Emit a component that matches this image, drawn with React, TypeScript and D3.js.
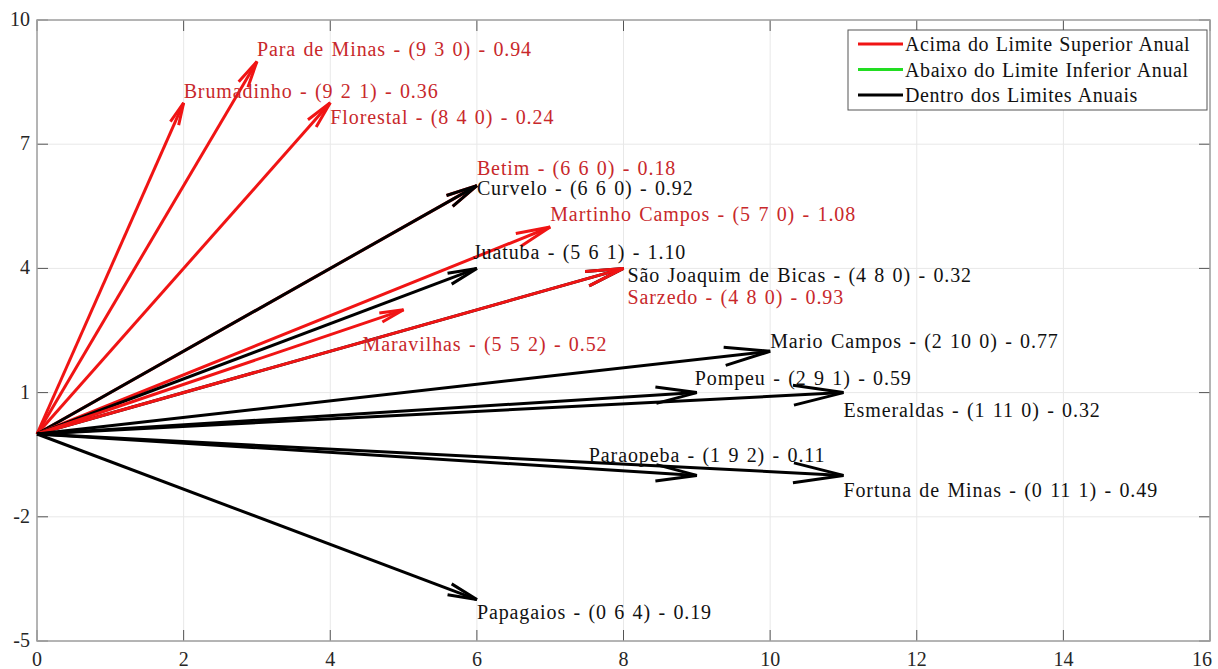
import React from "react";
import * as d3 from "d3";

// Station names and their (acima, dentro, abaixo) counts plus index value
const cities = [
  "Para de Minas", "Brumadinho", "Florestal", "Betim", "Curvelo",
  "Martinho Campos", "Juatuba", "São Joaquim de Bicas", "Sarzedo", "Maravilhas",
  "Mario Campos", "Pompeu", "Esmeraldas", "Paraopeba", "Fortuna de Minas", "Papagaios",
];
const countAbove = [9, 9, 8, 6, 6, 5, 5, 4, 4, 5, 2, 2, 1, 1, 0, 0];
const countWithin = [3, 2, 4, 6, 6, 7, 6, 8, 8, 5, 10, 9, 11, 9, 11, 6];
const countBelow = [0, 1, 0, 0, 0, 0, 1, 0, 0, 2, 0, 1, 0, 2, 1, 4];
const indexValue = ["0.94", "0.36", "0.24", "0.18", "0.92", "1.08", "1.10", "0.32", "0.93", "0.52", "0.77", "0.59", "0.32", "0.11", "0.49", "0.19"];
// "above" = Acima do Limite Superior Anual, "within" = Dentro dos Limites Anuais
const status = ["above", "above", "above", "above", "within", "above", "within", "within", "above", "above", "within", "within", "within", "within", "within", "within"];

const xTicks = [0, 2, 4, 6, 8, 10, 12, 14, 16];
const yTicks = [-5, -2, 1, 4, 7, 10];

const legendLabels = ["Acima do Limite Superior Anual", "Abaixo do Limite Inferior Anual", "Dentro dos Limites Anuais"];
const legendColors = ["#f01414", "#22dd22", "#000000"];

// Label placement relative to each arrow tip, in pixels
const labelShift: [number, number][] = [
  [0, -12], [0, -12], [0, 14], [0, -18], [0, 2],
  [0, -13], [-4, -16], [4, 7], [4, 29], [-41, 34],
  [0, -10], [-2, -15], [0, 17], [-108, -20], [0, 15], [0, 12],
];

const W = 1218;
const H = 669;
const left = 37, right = 1210, top = 20, bottom = 641;
const FONT = "'Liberation Serif', 'Times New Roman', serif";

export default function App() {
  const x = d3.scaleLinear().domain([0, 16]).range([left, right]);
  const y = d3.scaleLinear().domain([-5, 10]).range([bottom, top]);

  const arrowColor = (s: string) => (s === "above" ? "#f01414" : "#000000");
  const textColor = (s: string) => (s === "above" ? "#c8282b" : "#111111");

  // arrowheads scale with the on-screen length of each arrow
  const headFrac = 0.062;
  const headWidth = 0.2;

  const arrows = cities.map((name, i) => {
    const u = countWithin[i];
    const v = countAbove[i] - countBelow[i];
    const x0 = x(0), y0 = y(0), x1 = x(u), y1 = y(v);
    const dx = x1 - x0, dy = y1 - y0;
    const len = Math.hypot(dx, dy);
    const ux = dx / len, uy = dy / len;
    const hl = headFrac * len;
    const hw = headWidth * hl;
    const bx = x1 - ux * hl, by = y1 - uy * hl;
    const shaft = `M${x0},${y0}L${x1},${y1}`;
    const head = `M${bx - uy * hw},${by + ux * hw}L${x1},${y1}L${bx + uy * hw},${by - ux * hw}`;
    return { name, u, v, x1, y1, shaft, head, i };
  });

  return (
    <svg width={W} height={H} style={{ position: "absolute", left: 0, top: 0, background: "#fff" }}>
      <rect x={0} y={0} width={W} height={H} fill="#ffffff" />
      {/* grid */}
      {xTicks.map((t) => (
        <line key={"gx" + t} x1={x(t)} x2={x(t)} y1={top} y2={bottom} stroke="#e8e8e8" strokeWidth={1} />
      ))}
      {yTicks.map((t) => (
        <line key={"gy" + t} x1={left} x2={right} y1={y(t)} y2={y(t)} stroke="#e8e8e8" strokeWidth={1} />
      ))}
      {/* tick marks, inside on all four sides */}
      {xTicks.map((t) => (
        <g key={"tx" + t} stroke="#555" strokeWidth={1}>
          <line x1={x(t)} x2={x(t)} y1={bottom} y2={bottom - 11} />
          <line x1={x(t)} x2={x(t)} y1={top} y2={top + 11} />
        </g>
      ))}
      {yTicks.map((t) => (
        <g key={"ty" + t} stroke="#555" strokeWidth={1}>
          <line x1={left} x2={left + 11} y1={y(t)} y2={y(t)} />
          <line x1={right} x2={right - 11} y1={y(t)} y2={y(t)} />
        </g>
      ))}
      {/* axes box */}
      <rect x={left} y={top} width={right - left} height={bottom - top} fill="none" stroke="#a0a0a0" strokeWidth={1.5} />
      {/* tick labels */}
      {xTicks.map((t, k) => (
        <text
          key={"lx" + t}
          x={k === xTicks.length - 1 ? x(t) - 8 : x(t)}
          y={bottom + 25}
          textAnchor="middle"
          fontFamily={FONT}
          fontSize={20}
          fill="#262626"
        >
          {t}
        </text>
      ))}
      {yTicks.map((t) => (
        <text key={"ly" + t} x={left - 7} y={y(t) + 6} textAnchor="end" fontFamily={FONT} fontSize={20} fill="#262626">
          {t}
        </text>
      ))}
      {/* arrows */}
      {arrows.map((a) => (
        <g key={"ar" + a.i} stroke={arrowColor(status[a.i])} strokeWidth={3} fill="none" strokeLinejoin="miter">
          <path d={a.shaft} />
          <path d={a.head} />
        </g>
      ))}
      {/* labels */}
      {arrows.map((a) => (
        <text
          key={"tl" + a.i}
          x={a.x1 + labelShift[a.i][0]}
          y={a.y1 + labelShift[a.i][1]}
          dominantBaseline="central"
          fontFamily={FONT}
          fontSize={20}
          letterSpacing={0.9}
          wordSpacing={1.5}
          fill={textColor(status[a.i])}
        >
          {`${a.name} - (${countAbove[a.i]} ${countWithin[a.i]} ${countBelow[a.i]}) - ${indexValue[a.i]}`}
        </text>
      ))}
      {/* legend */}
      <g>
        <rect x={848} y={30} width={359} height={80} fill="#fff" stroke="#555" strokeWidth={1} />
        {legendLabels.map((lab, k) => (
          <g key={"lg" + k}>
            <line x1={858} x2={903} y1={44 + k * 25.5} y2={44 + k * 25.5} stroke={legendColors[k]} strokeWidth={3} />
            <text x={905} y={44 + k * 25.5} dominantBaseline="central" fontFamily={FONT} fontSize={20} letterSpacing={0.6} wordSpacing={1} fill="#111">
              {lab}
            </text>
          </g>
        ))}
      </g>
    </svg>
  );
}
